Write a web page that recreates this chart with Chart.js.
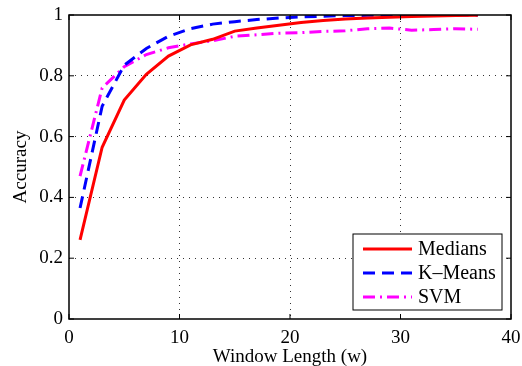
<!DOCTYPE html>
<html>
<head>
<meta charset="utf-8">
<script src="https://cdn.jsdelivr.net/npm/chart.js@4"></script>
<style>
  html, body { margin: 0; padding: 0; background: #fff; }
  #wrap { width: 522px; height: 366px; }
</style>
</head>
<body>
<div id="wrap"><canvas id="accChart" width="522" height="366"></canvas></div>
<script>
// window lengths (w)
var windowLengths = [1, 3, 5, 7, 9, 11, 13, 15, 17, 19, 21, 23, 25, 27, 29, 31, 33, 35, 37];

// accuracy per method
var mediansAcc = [0.26, 0.565, 0.72, 0.805, 0.865, 0.902, 0.92, 0.947, 0.957, 0.966, 0.975, 0.982, 0.987, 0.99, 0.993, 0.995, 0.997, 0.998, 0.999];
var kmeansAcc  = [0.365, 0.70, 0.835, 0.89, 0.93, 0.955, 0.97, 0.978, 0.985, 0.99, 0.994, 0.996, 0.998, 0.999, 1.0, 1.0, 1.0, 1.0, 1.0];
var svmAcc     = [0.47, 0.76, 0.83, 0.87, 0.892, 0.905, 0.915, 0.93, 0.935, 0.94, 0.942, 0.946, 0.948, 0.955, 0.957, 0.95, 0.952, 0.955, 0.953];

var xTicks = [0, 10, 20, 30, 40];
var yTicks = [0, 0.2, 0.4, 0.6, 0.8, 1];

function toPoints(vals) {
    return windowLengths.map(function (w, i) { return { x: w, y: vals[i] }; });
}

var serif = '"Liberation Serif", "Times New Roman", serif';

// MATLAB style box: top/right border, inward ticks, legend
var matlabBox = {
    id: 'matlabBox',
    afterDraw: function (chart) {
        var ctx = chart.ctx;
        var a = chart.chartArea;
        var xs = chart.scales.x;
        var ys = chart.scales.y;
        ctx.save();
        ctx.strokeStyle = '#000';
        ctx.lineWidth = 1.5;
        ctx.strokeRect(a.left, a.top, a.right - a.left, a.bottom - a.top);

        ctx.lineWidth = 1;
        var tl = 5;
        xTicks.forEach(function (t) {
            var px = xs.getPixelForValue(t);
            ctx.beginPath();
            ctx.moveTo(px, a.bottom); ctx.lineTo(px, a.bottom - tl);
            ctx.moveTo(px, a.top); ctx.lineTo(px, a.top + tl);
            ctx.stroke();
        });
        yTicks.forEach(function (t) {
            var py = ys.getPixelForValue(t);
            ctx.beginPath();
            ctx.moveTo(a.left, py); ctx.lineTo(a.left + tl, py);
            ctx.moveTo(a.right, py); ctx.lineTo(a.right - tl, py);
            ctx.stroke();
        });

        // legend
        var bx = 353, by = 234, bw = 149, bh = 76;
        ctx.fillStyle = '#fff';
        ctx.fillRect(bx, by, bw, bh);
        ctx.lineWidth = 1;
        ctx.strokeRect(bx, by, bw, bh);
        ctx.font = '20px ' + serif;
        ctx.textBaseline = 'middle';
        chart.data.datasets.forEach(function (ds, i) {
            var cy = by + 15 + i * 24;
            ctx.strokeStyle = ds.borderColor;
            ctx.lineWidth = ds.borderWidth;
            ctx.setLineDash(ds.borderDash || []);
            ctx.beginPath();
            ctx.moveTo(bx + 10, cy); ctx.lineTo(bx + 59, cy);
            ctx.stroke();
            ctx.setLineDash([]);
            ctx.fillStyle = '#000';
            ctx.fillText(ds.label, bx + 65, cy + 1);
        });
        ctx.restore();
    }
};

var ctx = document.getElementById('accChart').getContext('2d');
var accChart = new Chart(ctx, {
    type: 'line',
    data: {
        datasets: [
            {
                label: 'Medians',
                data: toPoints(mediansAcc),
                borderColor: '#ff0000',
                borderWidth: 3,
                pointRadius: 0,
                fill: false
            },
            {
                label: 'K\u2013Means',
                data: toPoints(kmeansAcc),
                borderColor: '#0000ff',
                borderWidth: 3,
                borderDash: [12, 7],
                pointRadius: 0,
                fill: false
            },
            {
                label: 'SVM',
                data: toPoints(svmAcc),
                borderColor: '#ff00ff',
                borderWidth: 3,
                borderDash: [12, 5, 2, 5],
                pointRadius: 0,
                fill: false
            }
        ]
    },
    options: {
        responsive: false,
        animation: false,
        layout: { padding: { left: 10, top: 15, right: 11, bottom: 0 } },
        plugins: {
            legend: { display: false },
            tooltip: { enabled: false }
        },
        scales: {
            x: {
                type: 'linear',
                min: 0,
                max: 40,
                afterBuildTicks: function (s) { s.ticks = xTicks.map(function (v) { return { value: v }; }); },
                afterFit: function (s) { s.height = 47; s.paddingLeft = 0; s.paddingRight = 0; },
                ticks: {
                    color: '#000',
                    font: { family: serif, size: 19 },
                    padding: 8,
                    maxRotation: 0
                },
                grid: {
                    drawTicks: false,
                    color: function (c) { return (c.tick && (c.tick.value === 0 || c.tick.value === 40)) ? 'rgba(0,0,0,0)' : '#333'; },
                    lineWidth: 1
                },
                border: { display: false, dash: [1, 5] },
                title: {
                    display: true,
                    text: 'Window Length (w)',
                    color: '#000',
                    font: { family: serif, size: 19 },
                    padding: { top: 0, bottom: -2 }
                }
            },
            y: {
                type: 'linear',
                min: 0,
                max: 1,
                afterBuildTicks: function (s) { s.ticks = yTicks.map(function (v) { return { value: v }; }); },
                afterFit: function (s) { s.width = 59; s.paddingTop = 0; s.paddingBottom = 0; },
                ticks: {
                    color: '#000',
                    font: { family: serif, size: 19 },
                    padding: 6,
                    callback: function (v) { return String(Math.round(v * 10) / 10); }
                },
                grid: {
                    drawTicks: false,
                    color: function (c) { return (c.tick && (c.tick.value === 0 || c.tick.value === 1)) ? 'rgba(0,0,0,0)' : '#333'; },
                    lineWidth: 1
                },
                border: { display: false, dash: [1, 5] },
                title: {
                    display: true,
                    text: 'Accuracy',
                    color: '#000',
                    font: { family: serif, size: 19 },
                    padding: { top: 0, bottom: 0 }
                }
            }
        }
    },
    plugins: [matlabBox]
});
</script>
</body>
</html>
